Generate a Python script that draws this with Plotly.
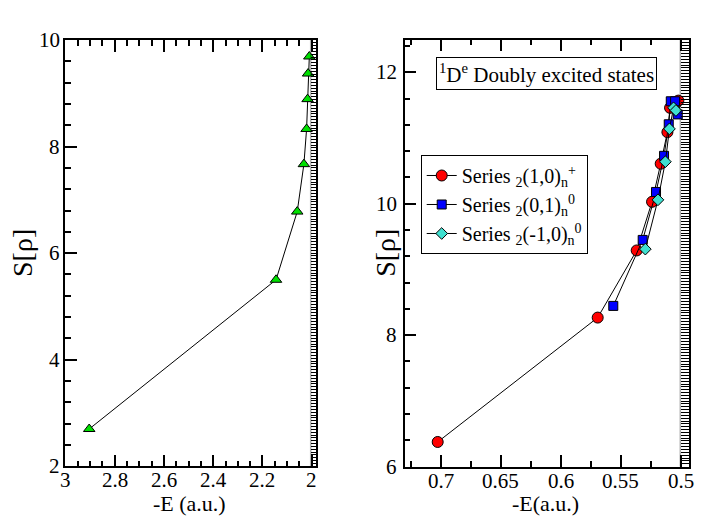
import plotly.graph_objects as go

# 1De bound states (left panel)
bound_E = [2.903, 2.145, 2.059, 2.032, 2.021, 2.017, 2.015, 2.010]
bound_S = [2.70, 5.50, 6.78, 7.67, 8.33, 8.89, 9.37, 9.69]

# 1De doubly excited states (right panel)
s10p_E = [0.7025, 0.5692, 0.5367, 0.5239, 0.5167, 0.5111, 0.5089, 0.5045, 0.5020]
s10p_S = [6.375, 8.268, 9.29, 10.03, 10.61, 11.09, 11.46, 11.52, 11.57]
s01_E = [0.5562, 0.5317, 0.5206, 0.5139, 0.5100, 0.5083, 0.5047, 0.5025]
s01_S = [8.446, 9.45, 10.18, 10.73, 11.21, 11.56, 11.56, 11.36]
sm10_E = [0.5295, 0.5190, 0.5128, 0.5094, 0.5060, 0.5040]
sm10_S = [9.31, 10.06, 10.64, 11.14, 11.46, 11.42]

# tick labels
left_xticks = [3, 2.8, 2.6, 2.4, 2.2, 2]
left_yticks = [2, 4, 6, 8, 10]
right_xticks = [0.7, 0.65, 0.6, 0.55, 0.5]
right_yticks = [6, 8, 10, 12]

FONT = "Liberation Serif, DejaVu Serif, serif"


def serif(s):
    # plain texts lose their font in this page, tagged ones keep it
    return f"<span style='font-family:Liberation Serif'>{s}</span>"


fig = go.Figure()

fig.add_trace(go.Scatter(
    x=bound_E, y=bound_S, mode="lines+markers", xaxis="x", yaxis="y",
    name="<sup>1</sup>D<sup>e</sup>  Bound states", legend="legend",
    line=dict(color="black", width=1),
    marker=dict(symbol="triangle-up", size=10, color="#00e000",
                line=dict(color="black", width=1)),
))

series = [
    (s10p_E, s10p_S, "Series <sub>2</sub>(1,0)<sub>n</sub><sup>+</sup>", "circle", "#ff0000", 11),
    (s01_E, s01_S, "Series <sub>2</sub>(0,1)<sub>n</sub><sup>0</sup>", "square", "#0000ff", 9),
    (sm10_E, sm10_S, "Series <sub>2</sub>(-1,0)<sub>n</sub><sup>0</sup>", "diamond", "#40e0d0", 9),
]
for ex, sy, nm, sym, col, sz in series:
    fig.add_trace(go.Scatter(
        x=ex, y=sy, mode="lines+markers", xaxis="x2", yaxis="y2",
        name=nm, legend="legend2",
        line=dict(color="black", width=1),
        marker=dict(symbol=sym, size=sz, color=col, line=dict(color="black", width=1)),
    ))

# empty traces so the striped threshold axes are drawn
fig.add_trace(go.Scatter(x=[], y=[], xaxis="x", yaxis="y3", showlegend=False))
fig.add_trace(go.Scatter(x=[], y=[], xaxis="x2", yaxis="y4", showlegend=False))

common = dict(showline=True, linecolor="black", linewidth=1.5, ticks="inside",
              tickcolor="black", tickwidth=1.5, showgrid=False, zeroline=False,
              automargin=False, showticklabels=False)
minor_x = dict(ticklen=6, tickcolor="black", tickwidth=1.5, ticks="inside")
stripes = dict(side="right", ticks="inside", tickwidth=1.4, tickcolor="black",
               showticklabels=False, showline=True, linecolor="black", linewidth=1.5,
               showgrid=False, zeroline=False, automargin=False)

# tick labels and axis titles as annotations
tfont = dict(family=FONT, size=21, color="black")
ann = []
for v in left_xticks:
    ann.append(dict(text=serif(f"{v:g}"), x=v, xref="x", y=0, yref="y domain", yanchor="top",
                    xanchor="center", yshift=0, showarrow=False, font=tfont))
for v in right_xticks:
    ann.append(dict(text=serif(f"{v:g}"), x=v, xref="x2", y=0, yref="y2 domain", yanchor="top",
                    xanchor="center", yshift=0, showarrow=False, font=tfont))
for v in left_yticks:
    ann.append(dict(text=serif(f"{v:g}"), y=v, yref="y", x=0, xref="x domain", xanchor="right",
                    yanchor="middle", xshift=-3, showarrow=False, font=tfont))
for v in right_yticks:
    ann.append(dict(text=serif(f"{v:g}"), y=v, yref="y2", x=0, xref="x2 domain", xanchor="right",
                    yanchor="middle", xshift=-6, showarrow=False, font=tfont))

titles = [
    ("-E (a.u.)", 0.269, 0.040, 0, 22),
    ("-E(a.u.)", 0.773, 0.040, 0, 22),
    ("S[ρ]", 0.031, 0.517, -90, 28),
    ("S[ρ]", 0.545, 0.517, -90, 28),
]
for txt, tx, ty, ang, sz in titles:
    ann.append(dict(text=serif(txt), x=tx, y=ty, xref="paper", yref="paper", xanchor="center",
                    yanchor="middle", textangle=ang, showarrow=False,
                    font=dict(family=FONT, size=sz, color="black")))

ann.append(dict(
    text="<sup>1</sup>D<sup>e</sup> Doubly excited states", xref="paper", yref="paper",
    x=0.7743, y=0.860, xanchor="center", yanchor="middle", showarrow=False,
    font=dict(family=FONT, size=21, color="black"),
    bordercolor="black", borderwidth=1, borderpad=2, bgcolor="white",
))

ldom = [0.0925, 0.448]
rdom = [0.5732, 0.9763]

fig.update_layout(
    template="simple_white",
    width=706, height=524,
    margin=dict(l=0, r=0, t=0, b=0),
    paper_bgcolor="white", plot_bgcolor="white",
    font=dict(family=FONT, size=21, color="black"),
    xaxis=dict(domain=ldom, range=[3, 1.9817], dtick=0.2, tick0=2, ticklen=12,
               mirror="ticks", anchor="y", minor=dict(dtick=0.05, **minor_x), **common),
    yaxis=dict(domain=[0.1101, 0.9237], range=[2, 10], dtick=2, tick0=2, ticklen=12,
               mirror=True, anchor="x", minor=dict(dtick=0.4, **minor_x), **common),
    yaxis3=dict(overlaying="y", anchor="x", range=[2, 10], dtick=8 / 150, tick0=2,
                ticklen=5.5, **stripes),
    xaxis2=dict(domain=rdom, range=[0.73, 0.4929], dtick=0.05, tick0=0.5, ticklen=12,
                mirror="ticks", anchor="y2", minor=dict(dtick=0.025, **minor_x), **common),
    yaxis2=dict(domain=[0.1095, 0.9246], range=[6, 12.5], dtick=2, tick0=6, ticklen=12,
                mirror=True, anchor="x2", minor=dict(dtick=0.4, **minor_x), **common),
    yaxis4=dict(overlaying="y2", anchor="x2", range=[6, 12.5], dtick=6.5 / 150, tick0=6,
                ticklen=8.5, **stripes),
    legend=dict(x=0.118, y=0.8906, xanchor="left", yanchor="top",
                bordercolor="black", borderwidth=1, bgcolor="white",
                font=dict(family=FONT, size=22), itemwidth=30, tracegroupgap=0),
    legend2=dict(x=0.5959, y=0.7042, xanchor="left", yanchor="top",
                 bordercolor="black", borderwidth=1, bgcolor="white",
                 font=dict(family=FONT, size=20), itemwidth=30, tracegroupgap=6),
    annotations=ann,
    shapes=[
        dict(type="line", xref="x domain", yref="y domain", x0=1 - 5.6 / 251, x1=1 - 5.6 / 251,
             y0=0, y1=1, line=dict(color="black", width=1.5)),
        dict(type="line", xref="x2 domain", yref="y2 domain", x0=1 - 9.0 / 285, x1=1 - 9.0 / 285,
             y0=0, y1=1, line=dict(color="black", width=1.5)),
    ],
)

# the page's default body margin would shift the figure by 8px
fig.write_html("out.html", config={"displayModeBar": False},
               post_script="document.body.style.margin = '0px';")
